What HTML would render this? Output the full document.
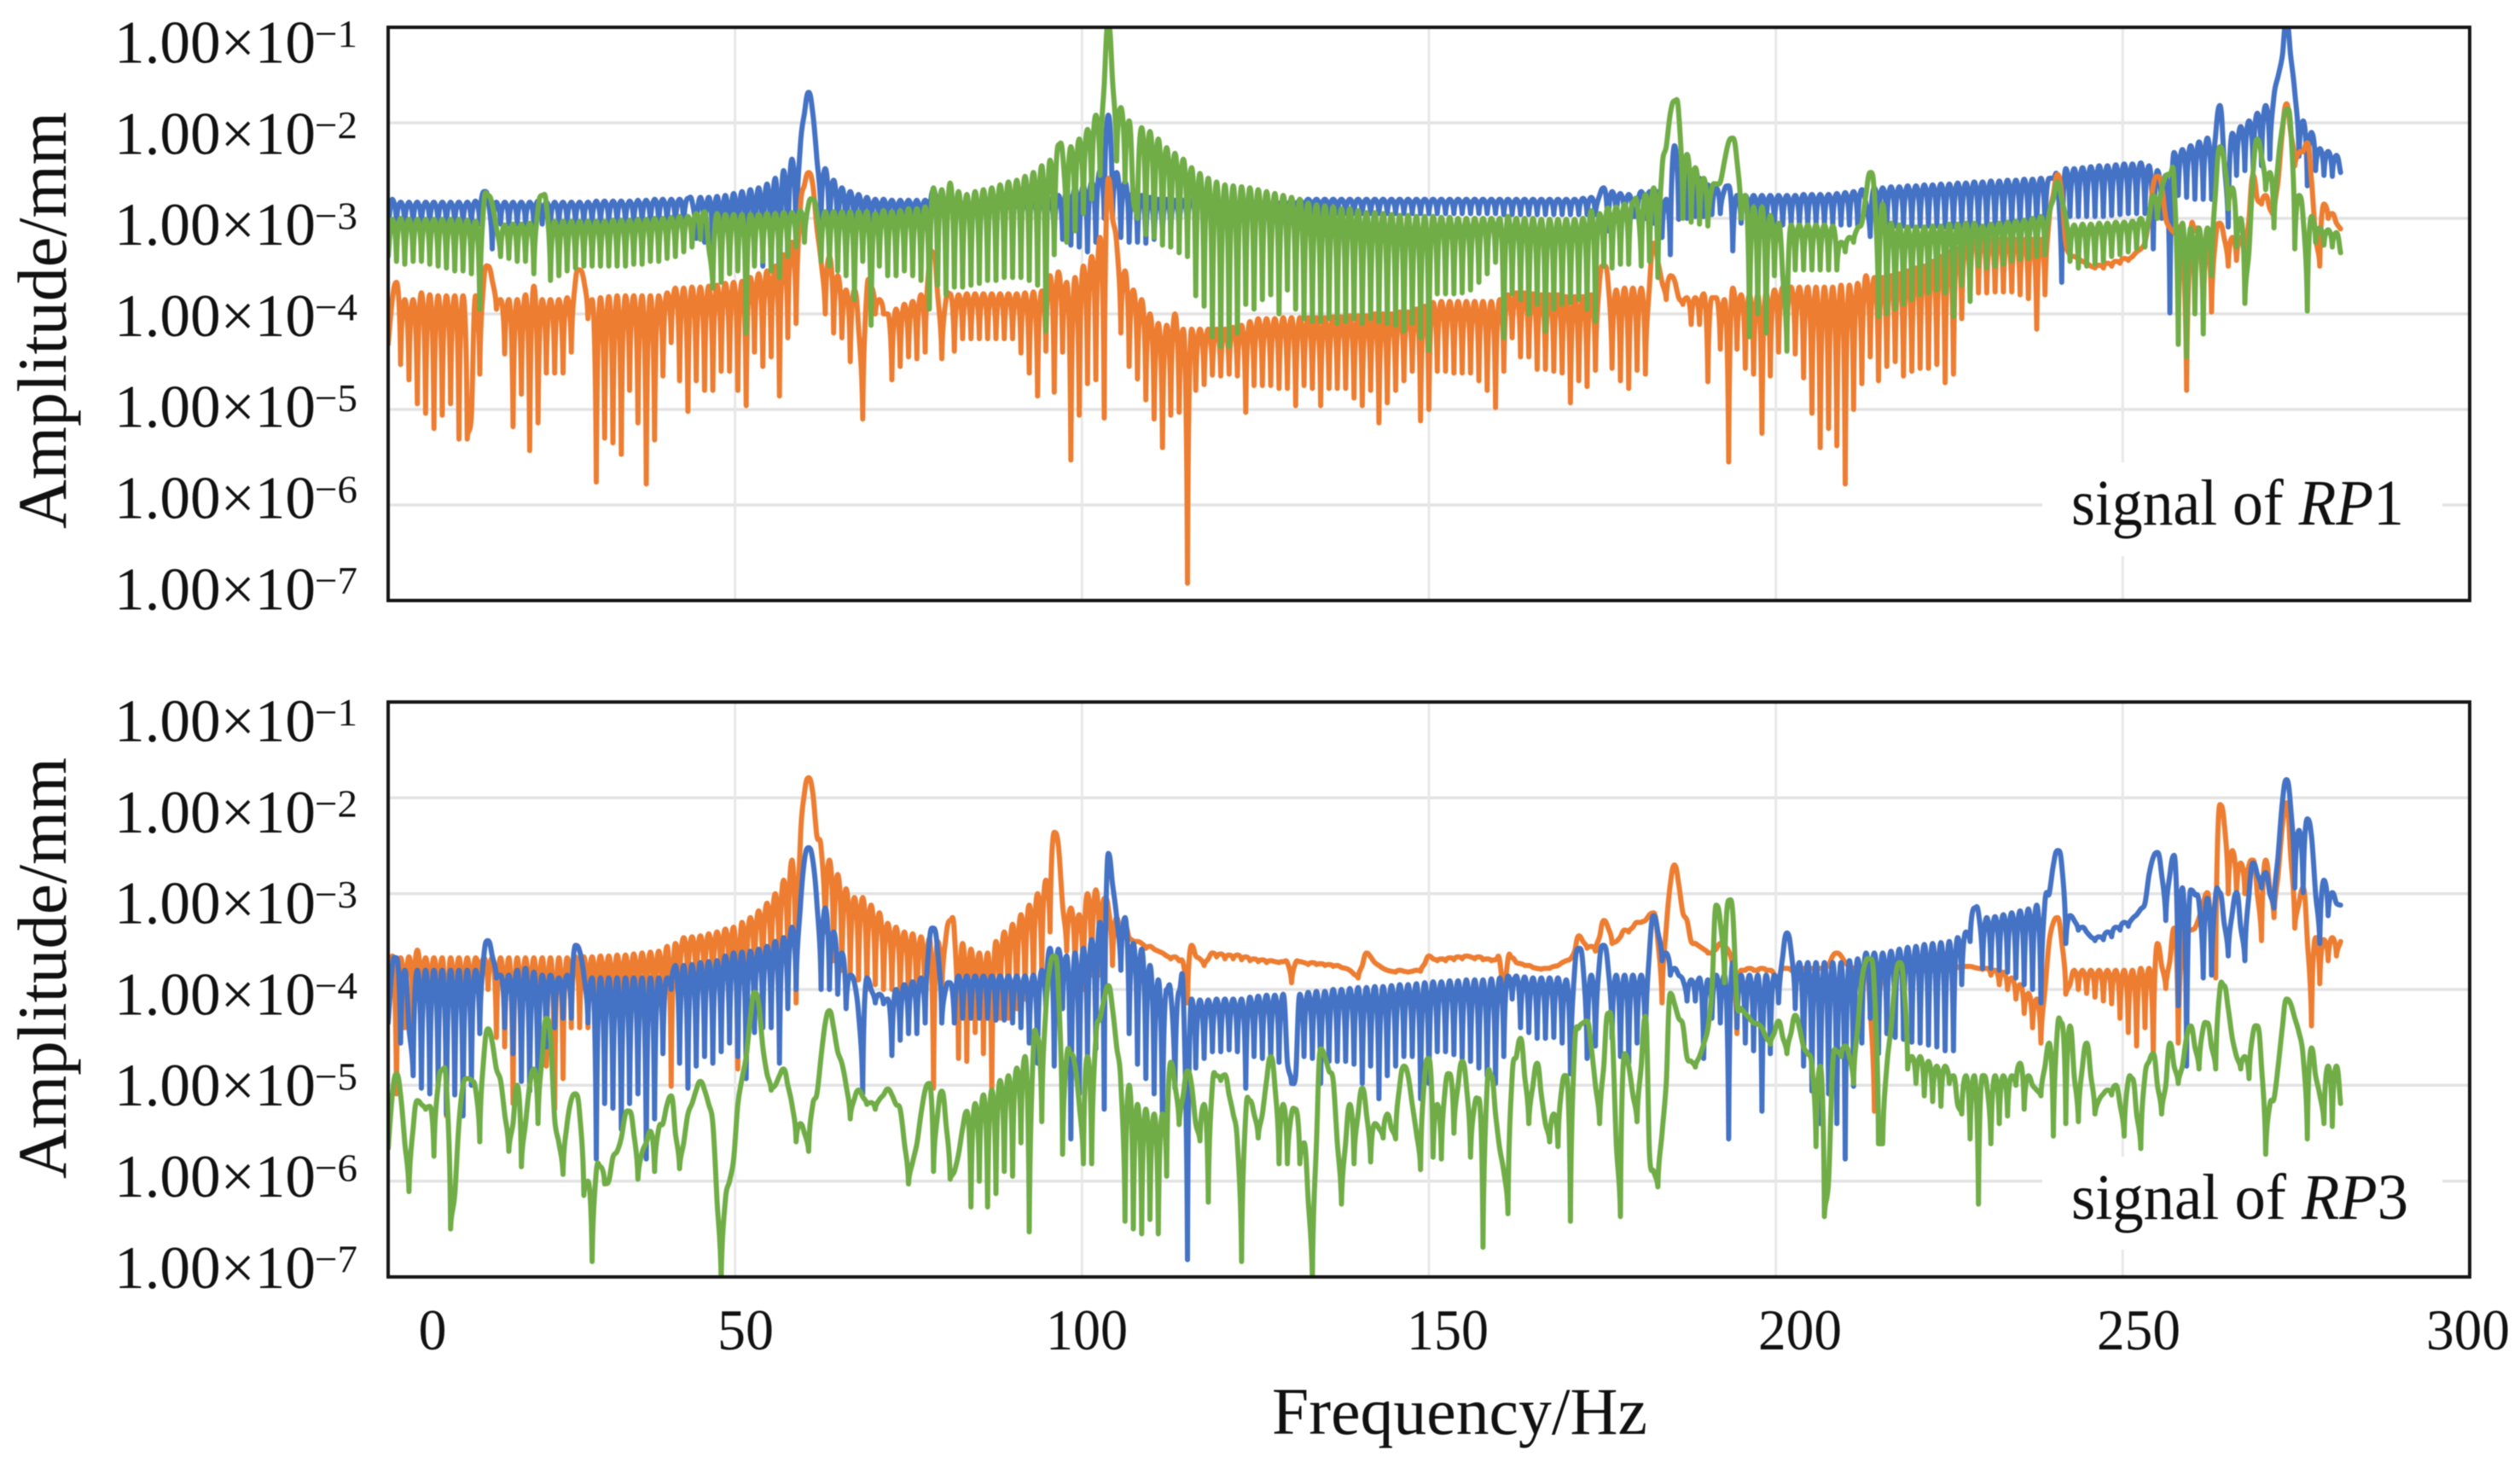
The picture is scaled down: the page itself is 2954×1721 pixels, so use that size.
<!DOCTYPE html>
<html lang="en">
<head>
<meta charset="utf-8">
<title>Amplitude spectra of RP1 and RP3</title>
<style>
html,body{margin:0;padding:0;background:#fff}
svg{display:block;filter:blur(0.6px)}
text{font-family:"Liberation Serif",serif;fill:#111}
.b{font-size:71px}
.s{font-size:46px}
.x{font-size:68px;text-anchor:middle}
</style>
</head>
<body>
<svg id="chart" xmlns="http://www.w3.org/2000/svg" width="2954" height="1721" viewBox="0 0 2954 1721">
<defs>
<clipPath id="clip-top"><rect x="455" y="32" width="2440" height="672"/></clipPath>
<clipPath id="clip-bottom"><rect x="455" y="823" width="2440" height="674"/></clipPath>
</defs>
<g id="grid-layer"></g>
<rect x="2394" y="542" width="469" height="110" fill="#fff"/>
<rect x="2394" y="1356" width="469" height="109" fill="#fff"/>
<g id="series-top" clip-path="url(#clip-top)"></g>
<g id="series-bottom" clip-path="url(#clip-bottom)"></g>
<rect x="455" y="32" width="2440" height="672" fill="none" stroke="#161616" stroke-width="4"/>
<rect x="455" y="823" width="2440" height="674" fill="none" stroke="#161616" stroke-width="4"/>

<g>
<g><text class="b" x="134" y="73.5" textLength="236" lengthAdjust="spacingAndGlyphs">1.00×10</text><text class="s" x="369" y="55" textLength="50" lengthAdjust="spacingAndGlyphs">−1</text></g>
<g><text class="b" x="134" y="180.3" textLength="236" lengthAdjust="spacingAndGlyphs">1.00×10</text><text class="s" x="369" y="161.8" textLength="50" lengthAdjust="spacingAndGlyphs">−2</text></g>
<g><text class="b" x="134" y="287.1" textLength="236" lengthAdjust="spacingAndGlyphs">1.00×10</text><text class="s" x="369" y="268.6" textLength="50" lengthAdjust="spacingAndGlyphs">−3</text></g>
<g><text class="b" x="134" y="393.9" textLength="236" lengthAdjust="spacingAndGlyphs">1.00×10</text><text class="s" x="369" y="375.4" textLength="50" lengthAdjust="spacingAndGlyphs">−4</text></g>
<g><text class="b" x="134" y="500.7" textLength="236" lengthAdjust="spacingAndGlyphs">1.00×10</text><text class="s" x="369" y="482.2" textLength="50" lengthAdjust="spacingAndGlyphs">−5</text></g>
<g><text class="b" x="134" y="607.5" textLength="236" lengthAdjust="spacingAndGlyphs">1.00×10</text><text class="s" x="369" y="589" textLength="50" lengthAdjust="spacingAndGlyphs">−6</text></g>
<g><text class="b" x="134" y="714.3" textLength="236" lengthAdjust="spacingAndGlyphs">1.00×10</text><text class="s" x="369" y="695.8" textLength="50" lengthAdjust="spacingAndGlyphs">−7</text></g>
</g>
<g>
<g><text class="b" x="134" y="869" textLength="236" lengthAdjust="spacingAndGlyphs">1.00×10</text><text class="s" x="369" y="850.5" textLength="50" lengthAdjust="spacingAndGlyphs">−1</text></g>
<g><text class="b" x="134" y="975.8" textLength="236" lengthAdjust="spacingAndGlyphs">1.00×10</text><text class="s" x="369" y="957.3" textLength="50" lengthAdjust="spacingAndGlyphs">−2</text></g>
<g><text class="b" x="134" y="1082.6" textLength="236" lengthAdjust="spacingAndGlyphs">1.00×10</text><text class="s" x="369" y="1064.1" textLength="50" lengthAdjust="spacingAndGlyphs">−3</text></g>
<g><text class="b" x="134" y="1189.4" textLength="236" lengthAdjust="spacingAndGlyphs">1.00×10</text><text class="s" x="369" y="1170.9" textLength="50" lengthAdjust="spacingAndGlyphs">−4</text></g>
<g><text class="b" x="134" y="1296.2" textLength="236" lengthAdjust="spacingAndGlyphs">1.00×10</text><text class="s" x="369" y="1277.7" textLength="50" lengthAdjust="spacingAndGlyphs">−5</text></g>
<g><text class="b" x="134" y="1403" textLength="236" lengthAdjust="spacingAndGlyphs">1.00×10</text><text class="s" x="369" y="1384.5" textLength="50" lengthAdjust="spacingAndGlyphs">−6</text></g>
<g><text class="b" x="134" y="1509.8" textLength="236" lengthAdjust="spacingAndGlyphs">1.00×10</text><text class="s" x="369" y="1491.3" textLength="50" lengthAdjust="spacingAndGlyphs">−7</text></g>
</g>
<g>
<text class="x" x="507" y="1582" textLength="33" lengthAdjust="spacingAndGlyphs">0</text>
<text class="x" x="874" y="1582" textLength="66" lengthAdjust="spacingAndGlyphs">50</text>
<text class="x" x="1274" y="1582" textLength="96" lengthAdjust="spacingAndGlyphs">100</text>
<text class="x" x="1697" y="1582" textLength="96" lengthAdjust="spacingAndGlyphs">150</text>
<text class="x" x="2110" y="1582" textLength="98" lengthAdjust="spacingAndGlyphs">200</text>
<text class="x" x="2507" y="1582" textLength="98" lengthAdjust="spacingAndGlyphs">250</text>
<text class="x" x="2893" y="1582" textLength="98" lengthAdjust="spacingAndGlyphs">300</text>
</g>
<text transform="translate(77,620) rotate(-90)" font-size="82" textLength="489" lengthAdjust="spacingAndGlyphs">Amplitude/mm</text>
<text transform="translate(77,1382) rotate(-90)" font-size="82" textLength="494" lengthAdjust="spacingAndGlyphs">Amplitude/mm</text>
<text x="1491" y="1681" font-size="78" textLength="440" lengthAdjust="spacingAndGlyphs">Frequency/Hz</text>
<text x="2428" y="615" font-size="76" textLength="390" lengthAdjust="spacingAndGlyphs">signal of <tspan font-style="italic">RP</tspan>1</text>
<text x="2428" y="1429" font-size="76" textLength="395" lengthAdjust="spacingAndGlyphs">signal of <tspan font-style="italic">RP</tspan>3</text>
</svg>
<script>
// Values: amplitude as hundredths of a decade below 1 mm (290 = 10^-2.90 mm), one sample every 0.6 Hz.
const hzStep = 0.6;
const xTicks = [0, 50, 100, 150, 200, 250, 300];
const yDecades = [100, 200, 300, 400, 500, 600, 700];

const rp1Blue = [
310,280,305,283,306,283,306,283,306,283,306,283,306,283,306,283,306,283,306,283,
306,282,306,272,280,332,283,306,283,306,283,306,283,306,283,306,282,306,283,306,
283,305,283,305,283,305,283,305,283,305,282,305,282,305,282,305,282,305,282,305,
281,305,281,305,280,305,280,305,280,306,280,306,279,282,321,278,325,278,335,277,
340,276,345,274,340,272,345,270,345,268,350,264,355,258,408,250,355,238,330,225,
190,168,190,238,300,248,320,260,325,268,325,272,320,275,318,278,315,280,312,280,
310,281,308,281,308,281,308,281,308,281,306,270,310,282,308,282,306,283,306,283,
306,283,306,283,306,283,306,283,306,283,308,282,310,282,312,281,315,280,318,280,
320,276,322,272,328,268,330,266,335,262,325,250,300,192,300,252,320,262,325,272,
325,276,326,278,322,280,318,280,315,281,312,281,310,281,308,281,305,281,303,281,
302,281,300,281,300,281,299,281,298,281,298,281,297,281,296,281,296,281,296,281,
295,280,295,280,295,280,295,280,295,280,295,280,295,280,295,280,295,280,295,280,
295,280,295,280,295,280,295,280,295,280,295,280,295,280,295,280,295,280,295,280,
295,280,295,280,295,280,295,280,296,280,296,280,296,280,296,280,296,280,296,280,
296,280,296,280,296,280,296,279,296,278,296,276,268,313,272,298,274,298,275,298,
298,272,300,272,305,272,320,280,338,224,301,238,300,250,298,258,298,265,296,268,
295,270,266,334,276,305,276,307,276,307,276,307,276,307,276,307,276,307,276,307,
275,307,275,307,275,307,275,307,274,307,273,307,272,307,270,285,319,268,307,268,
308,267,308,267,308,266,308,266,308,265,308,265,308,264,309,264,309,263,309,263,
310,262,310,262,310,261,310,261,310,260,310,260,310,259,310,259,310,258,310,258,
258,262,367,248,298,248,298,247,298,246,298,245,298,245,297,244,296,243,295,243,
295,242,295,245,332,250,300,255,399,231,276,228,278,224,280,220,280,216,280,212,
182,240,309,211,255,204,250,198,248,190,245,182,238,172,151,130,92,130,168,235,
198,266,210,250,227,255,230,256,234,252];

const rp1Orange = [
432,385,367,453,385,469,385,494,378,504,380,520,381,506,381,494,381,531,381,531,
506,381,463,365,350,365,395,385,442,385,518,385,484,380,543,371,514,385,462,385,
462,385,462,383,440,365,354,365,405,385,576,383,530,382,535,381,547,381,480,381,
514,381,578,381,532,381,465,378,430,373,470,373,502,372,470,372,480,371,480,370,
460,368,460,367,480,366,496,362,440,358,455,355,445,350,486,338,425,325,410,290,
265,252,265,310,345,400,340,420,360,425,375,450,375,415,510,375,372,400,385,400,
400,469,395,455,390,445,387,447,380,440,345,336,380,447,385,379,439,380,426,379,
426,379,426,379,426,379,426,379,426,379,426,379,441,378,462,377,486,376,439,360,
482,356,440,367,553,362,506,350,473,340,469,320,509,258,300,326,420,355,455,375,
468,385,490,400,510,410,540,412,506,400,503,416,682,416,480,416,474,416,464,416,
465,416,463,414,465,412,503,408,475,405,475,405,475,405,478,404,478,404,496,404,
475,404,478,404,496,404,478,403,478,403,478,402,488,402,496,402,480,400,514,400,
493,400,480,398,470,398,460,395,512,392,500,388,460,387,460,387,462,387,462,387,
462,387,470,387,480,387,498,385,460,380,425,378,445,378,445,379,458,380,458,380,
460,380,462,382,493,382,470,382,476,380,459,365,350,365,457,375,470,373,478,373,
459,373,463,370,326,345,367,385,360,365,383,390,383,411,383,411,379,471,383,383,
437,385,555,373,437,380,457,380,463,380,525,378,465,375,440,372,420,372,442,372,
467,372,504,372,540,372,520,372,538,370,578,370,500,368,473,360,445,362,470,362,
455,360,450,358,465,355,460,352,457,350,457,345,453,340,472,335,463,332,405,325,
380,318,378,320,378,322,377,322,377,322,377,322,380,322,384,322,416,322,380,300,
275,254,275,326,338,340,342,345,347,350,352,349,352,347,350,345,347,342,344,340,
335,332,325,300,265,256,265,300,310,315,318,320,480,318,313,318,400,330,398,320,
305,320,350,320,344,320,354,300,255,280,285,276,290,300,260,210,180,210,245,231,
230,221,260,320,350,285,300,295,305,311];

const rp1Green = [
340,301,345,300,348,301,345,301,345,301,348,301,350,301,352,301,355,301,355,302,
358,303,395,285,276,285,310,340,307,342,306,345,306,345,305,358,290,276,285,365,
303,360,303,355,303,352,303,350,303,350,303,350,303,350,302,350,302,350,302,348,
301,348,301,345,300,345,300,342,299,340,298,335,298,330,295,322,293,330,373,295,
367,296,358,296,355,296,420,296,350,296,345,295,355,295,362,294,340,294,330,292,
325,285,280,295,345,293,350,293,355,293,360,293,385,293,345,293,412,295,350,292,
360,293,360,292,355,290,360,290,365,288,395,268,370,270,380,263,372,272,372,275,
370,272,368,270,365,268,365,265,362,262,362,260,362,256,365,252,370,245,418,239,
338,223,232,325,225,313,217,295,207,280,192,255,160,95,155,240,184,262,198,280,
300,205,317,209,320,217,328,226,330,232,336,238,340,247,381,253,392,258,424,262,
434,265,434,266,420,267,390,268,395,270,385,272,380,274,400,276,375,278,395,280,
405,284,408,286,408,287,405,288,410,290,408,290,405,292,410,294,405,294,408,295,
410,296,412,297,418,297,410,298,425,298,438,298,379,299,379,299,379,300,378,300,
375,300,367,300,358,300,346,300,425,298,379,300,385,300,400,300,390,301,418,301,
395,301,390,301,388,301,385,300,395,292,408,295,350,289,352,288,348,285,348,283,
284,350,275,345,268,362,248,225,190,177,190,300,233,304,247,306,258,308,268,264,
262,240,220,216,240,300,276,424,288,400,288,420,297,360,305,360,439,307,354,307,
354,307,354,307,354,307,354,308,354,325,335,320,325,310,305,275,252,275,403,285,
400,305,395,307,390,309,385,309,380,309,378,308,375,308,378,306,403,306,370,305,
387,305,350,308,352,306,350,305,348,304,345,303,343,302,342,300,340,298,338,295,
280,262,280,300,345,307,352,306,350,306,348,305,345,305,340,304,338,304,335,303,
332,300,330,298,276,300,270,256,254,262,432,305,445,310,400,310,421,310,360,270,
225,240,290,268,330,300,389,333,250,217,235,270,252,310,241,205,186,205,332,276,
300,397,298,325,310,328,312,330,315,336];

const rp3Orange = [
380,365,509,367,440,366,435,359,430,367,440,367,440,367,532,367,450,367,455,367,
445,367,393,367,400,367,450,367,460,367,519,367,470,367,470,367,470,367,480,367,
525,367,493,367,440,366,440,366,440,366,440,365,440,365,451,364,440,364,440,363,
440,362,440,361,440,360,440,355,501,352,400,346,400,345,400,344,400,342,400,340,
400,337,400,335,483,330,400,325,390,318,385,310,380,300,390,286,375,265,414,247,
195,179,195,240,252,340,265,370,280,380,295,385,304,390,304,400,312,395,320,400,
331,400,335,410,340,420,342,430,345,425,347,503,350,405,345,328,340,472,352,475,
358,445,362,467,362,509,350,430,340,430,332,420,322,410,312,400,300,385,286,340,
236,250,312,360,315,380,322,400,300,385,296,385,305,315,375,325,370,333,346,350,
350,352,357,355,358,360,362,365,368,366,370,373,414,354,365,368,375,368,362,366,
363,368,364,368,364,369,366,370,368,371,369,372,370,371,372,371,372,393,372,371,
372,374,372,374,373,375,374,376,375,377,378,380,384,388,375,362,366,372,375,378,
380,381,382,380,381,382,381,380,381,373,365,368,370,368,370,367,369,366,368,365,
366,368,366,369,368,370,369,370,430,368,367,372,373,375,375,377,378,379,378,378,
376,375,372,370,368,360,344,350,357,355,360,345,328,335,352,350,345,338,340,335,
330,330,328,322,320,350,414,336,290,270,290,320,328,350,352,355,358,362,362,358,
352,355,360,378,446,380,380,378,380,380,378,380,380,385,398,378,378,380,378,380,
378,380,378,380,378,378,375,365,362,365,372,376,378,378,380,380,420,527,420,380,
378,380,378,380,378,380,378,380,378,380,378,380,378,379,378,378,377,377,376,376,
376,377,378,379,378,385,380,395,382,400,388,410,395,425,404,440,410,456,400,350,
330,325,350,405,395,380,400,380,404,380,408,380,412,380,415,380,430,380,445,380,
459,378,440,378,469,352,375,399,370,336,456,345,340,338,336,325,310,299,350,388,
207,225,300,255,300,268,300,270,265,300,349,265,295,325,280,230,205,260,336,310,
294,349,438,346,394,348,370,346,365,350];

const rp3Blue = [
435,375,367,456,380,440,490,380,503,380,509,380,500,380,530,380,510,380,532,380,
500,380,446,365,349,365,388,385,440,385,467,380,496,378,506,382,514,385,460,385,
440,388,430,385,430,354,360,385,435,388,577,388,519,388,524,388,546,388,519,388,
509,388,577,388,535,388,467,388,400,375,477,375,503,374,480,372,470,371,477,370,
465,365,456,362,470,361,493,360,445,358,440,355,440,350,477,346,420,335,400,315,
265,252,265,310,400,315,400,340,405,362,420,385,393,425,509,388,400,414,405,415,
410,469,400,453,395,446,392,446,388,435,350,336,360,435,398,393,435,386,430,386,
430,386,430,386,430,386,432,386,432,386,435,386,440,386,456,385,477,380,420,357,
480,358,420,365,556,362,509,357,472,348,462,330,525,258,290,325,380,325,446,352,
478,358,493,375,509,390,551,400,404,503,402,405,682,410,482,411,472,411,465,410,
465,410,463,410,465,410,503,408,470,407,472,406,475,406,476,405,476,498,490,405,
470,403,472,402,498,402,475,400,475,400,475,399,478,398,498,398,480,397,514,397,
490,396,480,395,470,395,470,394,514,393,498,392,465,392,465,391,468,391,472,390,
475,390,482,390,490,389,498,388,470,386,410,386,440,387,445,388,451,388,451,388,
450,388,456,390,488,380,357,375,472,385,459,370,354,375,451,385,470,385,477,385,
456,385,463,360,323,340,370,362,385,378,385,390,412,390,412,388,472,390,430,385,
435,385,556,372,440,385,456,385,464,385,527,385,467,385,414,365,341,360,420,372,
480,372,506,372,540,372,509,372,540,372,577,370,501,368,456,362,430,362,467,362,
446,360,450,358,452,356,455,355,456,353,458,352,460,351,464,350,464,346,395,340,
350,315,320,378,325,378,324,380,322,382,320,388,318,395,316,400,312,414,308,300,
270,255,270,352,323,328,338,335,340,345,349,345,348,340,345,335,338,330,334,326,
322,316,310,280,262,257,280,328,280,260,417,294,480,296,301,310,388,305,385,301,
299,330,365,320,299,335,370,300,268,280,294,278,300,315,260,205,181,210,294,234,
299,222,240,300,352,286,323,299,310,312];

const rp3Green = [
566,510,488,510,560,611,545,516,520,525,522,574,500,484,500,650,614,540,500,493,
495,504,559,470,441,455,483,495,530,569,540,500,585,540,500,483,540,470,430,450,
535,560,593,540,515,509,530,615,600,684,590,585,603,600,575,569,555,530,527,550,
598,570,560,548,590,545,540,520,511,550,587,560,530,519,505,496,505,520,540,620,
705,620,600,577,520,493,470,430,403,415,460,488,505,500,490,483,500,520,559,540,
550,569,520,509,470,435,422,440,465,477,500,535,514,505,512,520,518,525,515,510,
504,510,520,525,560,603,580,561,530,505,498,590,530,506,540,598,590,572,545,527,
627,519,600,510,627,505,613,495,590,490,595,482,560,470,653,461,450,538,420,375,
365,400,572,470,467,480,520,582,470,582,450,430,410,396,420,460,498,642,500,650,
520,655,525,640,530,655,530,595,476,500,541,510,485,500,540,558,520,622,500,490,
495,489,510,530,560,684,530,516,530,555,530,495,470,500,582,520,582,530,525,582,
560,620,705,560,462,470,485,495,560,624,560,520,582,530,503,530,580,540,545,555,
530,545,556,500,480,490,520,550,588,490,472,575,520,577,500,488,550,500,475,500,
575,520,514,669,500,490,530,566,590,634,490,470,451,490,540,500,477,510,540,559,
530,564,500,490,642,460,440,435,433,460,500,540,480,425,440,560,637,467,480,510,
538,480,428,572,590,606,550,498,404,415,430,437,471,475,481,470,457,441,400,312,
330,393,307,320,414,420,425,430,435,436,440,450,457,445,433,450,467,445,427,440,
460,467,480,564,480,637,600,477,465,470,459,470,498,440,390,370,368,400,561,561,
480,440,390,372,390,483,470,498,470,511,475,517,480,522,480,498,490,520,530,490,
556,490,624,490,500,561,490,540,490,532,490,500,477,525,490,500,505,511,480,456,
553,440,435,540,438,490,538,480,456,490,530,515,509,505,510,500,520,553,495,493,
530,566,490,475,467,500,530,500,456,480,498,480,450,438,460,483,440,435,460,483,
400,396,420,451,470,483,470,493,445,438,480,572,520,514,480,440,410,415,430,445,
470,556,461,490,510,540,480,543,480,519];

const seriesColors = {blue: '#4472c4', orange: '#ed7d31', green: '#70ad47'};
const svgNS = 'http://www.w3.org/2000/svg';
const plotLeft = 455, plotRight = 2895;
const panelTop = {top: 32, bottom: 704};
const panelBottom = {top: 823, bottom: 1497};

function xScale(hz) {
  return plotLeft + (hz / 300) * (plotRight - plotLeft);
}
function yScale(panel, decades) {
  return panel.top + ((decades - 100) / 600) * (panel.bottom - panel.top);
}
function seriesPath(values, panel) {
  const pts = values.map(function (v, i) { return [xScale(i * hzStep), yScale(panel, v)]; });
  const n = pts.length;
  function kind(i) {
    if (i <= 0 || i >= n - 1) return 'end';
    if (values[i] >= values[i - 1] && values[i] >= values[i + 1]) return 'dip';
    if (values[i] <= values[i - 1] && values[i] <= values[i + 1]) return 'top';
    return 'mid';
  }
  function slope(i) {
    const a = pts[Math.max(i - 1, 0)], b = pts[Math.min(i + 1, n - 1)];
    return (b[1] - a[1]) / (b[0] - a[0]);
  }
  function handle(i, other, dir) {
    const p = pts[i], q = pts[other], dx = Math.abs(q[0] - p[0]), k = kind(i);
    if (k === 'dip') return [p[0] + dir * dx * 0.12, p[1] + (q[1] - p[1]) * 0.55];
    if (k === 'top') return [p[0] + dir * dx * 0.5, p[1]];
    return [p[0] + dir * dx / 3, p[1] + dir * slope(i) * dx / 3];
  }
  let d = 'M' + pts[0][0].toFixed(1) + ' ' + pts[0][1].toFixed(1);
  for (let i = 0; i < n - 1; i++) {
    const c1 = handle(i, i + 1, 1), c2 = handle(i + 1, i, -1), e = pts[i + 1];
    d += 'C' + c1[0].toFixed(1) + ' ' + c1[1].toFixed(1) + ' ' + c2[0].toFixed(1) + ' ' + c2[1].toFixed(1) + ' ' + e[0].toFixed(1) + ' ' + e[1].toFixed(1);
  }
  return d;
}
function drawSeries(groupId, panel, values, color, name) {
  const el = document.createElementNS(svgNS, 'path');
  el.setAttribute('d', seriesPath(values, panel));
  el.setAttribute('fill', 'none');
  el.setAttribute('stroke', color);
  el.setAttribute('stroke-width', '6');
  el.setAttribute('stroke-linejoin', 'round');
  el.setAttribute('stroke-linecap', 'round');
  
  
  document.getElementById(groupId).appendChild(el);
}
function drawGrid(panel, prefix) {
  const layer = document.getElementById('grid-layer');
  yDecades.slice(1, -1).forEach(function (d) {
    const line = document.createElementNS(svgNS, 'line');
    line.setAttribute('x1', plotLeft);
    line.setAttribute('x2', plotRight);
    line.setAttribute('y1', yScale(panel, d));
    line.setAttribute('y2', yScale(panel, d));
    line.setAttribute('stroke', '#e3e3e3');
    line.setAttribute('stroke-width', '3.4');
    
    
    layer.appendChild(line);
  });
  xTicks.slice(1, -1).forEach(function (t) {
    const line = document.createElementNS(svgNS, 'line');
    line.setAttribute('x1', xScale(t));
    line.setAttribute('x2', xScale(t));
    line.setAttribute('y1', panel.top);
    line.setAttribute('y2', panel.bottom);
    line.setAttribute('stroke', '#e8e8e8');
    line.setAttribute('stroke-width', '3');
    
    
    layer.appendChild(line);
  });
}
drawGrid(panelTop, 'rp1');
drawGrid(panelBottom, 'rp3');
drawSeries('series-top', panelTop, rp1Blue, seriesColors.blue, 'rp1-blue-series');
drawSeries('series-top', panelTop, rp1Orange, seriesColors.orange, 'rp1-orange-series');
drawSeries('series-top', panelTop, rp1Green, seriesColors.green, 'rp1-green-series');
drawSeries('series-bottom', panelBottom, rp3Orange, seriesColors.orange, 'rp3-orange-series');
drawSeries('series-bottom', panelBottom, rp3Blue, seriesColors.blue, 'rp3-blue-series');
drawSeries('series-bottom', panelBottom, rp3Green, seriesColors.green, 'rp3-green-series');
</script>
</body>
</html>
